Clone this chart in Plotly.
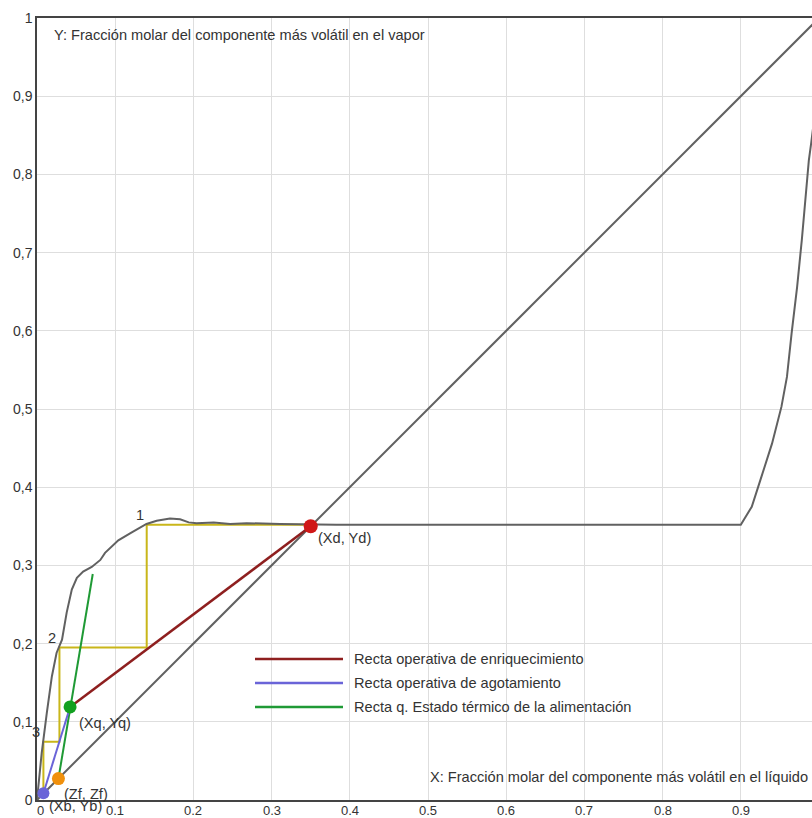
import plotly.graph_objects as go

# ---------------- data ----------------
eq_x = [0.0, 0.006, 0.0125, 0.019, 0.025, 0.032, 0.038, 0.0445, 0.051, 0.059, 0.070, 0.081,
        0.087, 0.104, 0.119, 0.132, 0.140, 0.153, 0.170, 0.183, 0.194, 0.204, 0.226, 0.247,
        0.268, 0.311, 0.349, 0.383, 0.900, 0.914, 0.925, 0.940, 0.952, 0.959, 0.965, 0.972,
        0.978, 0.983, 0.987, 0.990, 0.995]
eq_y = [0.0, 0.060, 0.111, 0.158, 0.188, 0.205, 0.240, 0.269, 0.284, 0.292, 0.298, 0.307,
        0.316, 0.332, 0.341, 0.348, 0.353, 0.357, 0.360, 0.359, 0.355, 0.354, 0.355, 0.353,
        0.354, 0.353, 0.352, 0.352, 0.352, 0.375, 0.409, 0.456, 0.503, 0.541, 0.597, 0.656,
        0.716, 0.776, 0.818, 0.840, 0.880]

diag = [0.0, 1.0]

Xd, Yd = 0.35, 0.35
Xq, Yq = 0.0423, 0.119
Zf = 0.0274
Xb, Yb = 0.0082, 0.0086
q_top_x, q_top_y = 0.0713, 0.289

stair_x = [0.35, 0.1403, 0.1403, 0.0287, 0.0287, 0.0082, 0.0082]
stair_y = [0.352, 0.352, 0.195, 0.195, 0.0746, 0.0746, 0.009]
stage_x = [0.1403, 0.0287, 0.0082]
stage_y = [0.352, 0.195, 0.0746]
stage_labels = ["1", "2", "3"]

x_tickvals = [0, 0.1, 0.2, 0.3, 0.4, 0.5, 0.6, 0.7, 0.8, 0.9]
x_ticktext = ["0", "0.1", "0.2", "0.3", "0.4", "0.5", "0.6", "0.7", "0.8", "0.9"]
y_tickvals = [0, 0.1, 0.2, 0.3, 0.4, 0.5, 0.6, 0.7, 0.8, 0.9, 1.0]
y_ticktext = ["0", "0,1", "0,2", "0,3", "0,4", "0,5", "0,6", "0,7", "0,8", "0,9", "1"]

legend_names = ["Recta operativa de enriquecimiento",
                "Recta operativa de agotamiento",
                "Recta q. Estado térmico de la alimentación"]

# ---------------- style ----------------
FONT = "Liberation Sans, Arial, sans-serif"
FS = 14.6
TFS = 14
GRAY = "#616161"
YELLOW = "#c9b61a"
RED_LINE = "#8e1f1f"
BLUE_LINE = "#6a64d8"
GREEN_LINE = "#1f9a35"

fig = go.Figure()

fig.add_trace(go.Scatter(x=diag, y=diag, mode="lines",
                         line=dict(color=GRAY, width=2), showlegend=False, hoverinfo="skip"))
fig.add_trace(go.Scatter(x=stair_x, y=stair_y, mode="lines",
                         line=dict(color=YELLOW, width=2), showlegend=False, hoverinfo="skip"))
fig.add_trace(go.Scatter(x=eq_x, y=eq_y, mode="lines",
                         line=dict(color=GRAY, width=2), showlegend=False, hoverinfo="skip"))
fig.add_trace(go.Scatter(x=[Zf, q_top_x], y=[Zf, q_top_y], mode="lines",
                         line=dict(color=GREEN_LINE, width=2), showlegend=False))
fig.add_trace(go.Scatter(x=[Xq, Xd], y=[Yq, Yd], mode="lines",
                         line=dict(color=RED_LINE, width=2.5), showlegend=False))
fig.add_trace(go.Scatter(x=[Xb, Xq], y=[Yb, Yq], mode="lines",
                         line=dict(color=BLUE_LINE, width=2), showlegend=False))

fig.add_trace(go.Scatter(x=[Xd], y=[Yd], mode="markers",
                         marker=dict(color="#d01818", size=14), showlegend=False, cliponaxis=False))
fig.add_trace(go.Scatter(x=[Xq], y=[Yq], mode="markers",
                         marker=dict(color="#12a020", size=13), showlegend=False, cliponaxis=False))
fig.add_trace(go.Scatter(x=[Zf], y=[Zf], mode="markers",
                         marker=dict(color="#f0900c", size=13), showlegend=False, cliponaxis=False))
fig.add_trace(go.Scatter(x=[Xb], y=[Yb], mode="markers",
                         marker=dict(color="#6a64d8", size=12), showlegend=False, cliponaxis=False))

annotations = []
txtfont = dict(family=FONT, size=FS, color="#333333")
tickfont = dict(family=FONT, size=TFS, color="#333333")
xtickfont = dict(family=FONT, size=13, color="#333333")

# x tick labels drawn as annotations anchored on the tick values (closer to the axis)
for v, t in zip(x_tickvals, x_ticktext):
    annotations.append(dict(x=v, y=0, text=t, showarrow=False, yshift=-10, borderpad=0,
                            xshift=3 if v == 0 else 0,
                            xanchor="center", yanchor="middle", font=xtickfont))

for sx, sy, lab in zip(stage_x, stage_y, stage_labels):
    annotations.append(dict(x=sx, y=sy, text=lab, showarrow=False, xshift=-7, yshift=10,
                            font=txtfont, xanchor="center", yanchor="middle"))

point_labels = [(Xd, Yd, "(Xd, Yd)", 6, -12),
                (Xq, Yq, "(Xq, Yq)", 8, -16),
                (Zf, Zf, "(Zf, Zf)", 5, -15),
                (Xb, Yb, "(Xb, Yb)", 5, -13)]
for px, py, lab, dx, dy in point_labels:
    annotations.append(dict(x=px, y=py, text=lab, showarrow=False, xshift=dx, yshift=dy,
                            borderpad=0, font=txtfont, xanchor="left", yanchor="middle"))

annotations.append(dict(x=0.0193, y=0.978, text="Y: Fracción molar del componente más volátil en el vapor",
                        showarrow=False, xanchor="left", yanchor="middle", font=txtfont))
annotations.append(dict(x=0.9886, y=0.0294, text="X: Fracción molar del componente más volátil en el líquido",
                        showarrow=False, xanchor="right", yanchor="middle", font=txtfont))

W, H = 812, 818
L, T, R, B = 37, 18, 0, 18
pw, ph = W - L - R, H - T - B

def px2paper(px, py):
    return (px - L) / pw, (H - B - py) / ph

shapes = []
for i, (name, col) in enumerate(zip(legend_names, [RED_LINE, BLUE_LINE, GREEN_LINE])):
    ly = 659 + i * 24
    x0, y0 = px2paper(255, ly)
    x1, _ = px2paper(343, ly)
    shapes.append(dict(type="line", xref="paper", yref="paper", x0=x0, x1=x1, y0=y0, y1=y0,
                       line=dict(color=col, width=2.5)))
    tx, _ = px2paper(352, ly)
    annotations.append(dict(xref="paper", yref="paper", x=tx, y=y0, text=name, showarrow=False,
                            xanchor="left", yanchor="middle", font=txtfont))

xmax = pw / 782.0
fig.update_layout(
    width=W, height=H,
    margin=dict(l=L, r=R, t=T, b=B, pad=0),
    paper_bgcolor="white", plot_bgcolor="white",
    font=dict(family=FONT, size=TFS, color="#333333"),
    showlegend=False,
    annotations=annotations,
    shapes=shapes,
    xaxis=dict(range=[0, xmax], tickvals=x_tickvals, showticklabels=False, automargin=False,
               showgrid=True, gridcolor="#dedede", gridwidth=1, zeroline=False,
               showline=True, linecolor="#444444", linewidth=1.5, mirror=True, ticks=""),
    yaxis=dict(range=[0, 1], tickvals=y_tickvals, ticktext=y_ticktext, automargin=False,
               showgrid=True, gridcolor="#dedede", gridwidth=1, zeroline=False,
               showline=True, linecolor="#444444", linewidth=1.5, mirror=False,
               ticks="", tickfont=tickfont),
)

fig.write_html("out.html", config={"displayModeBar": False},
               post_script="document.body.style.margin='0';document.body.style.overflow='hidden';")
